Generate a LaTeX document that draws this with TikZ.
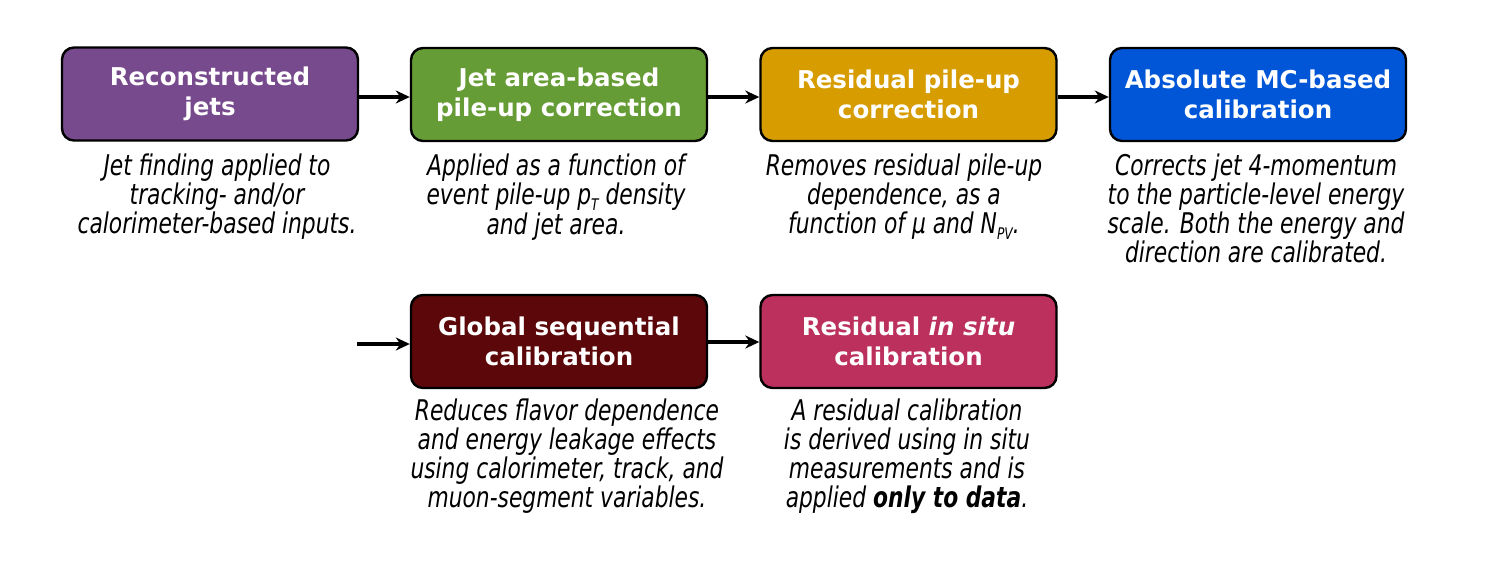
\documentclass[tikz,border=0pt]{standalone}
\usepackage{fontspec}
\setmainfont{DejaVu Sans}
\newfontfamily\descfont{DejaVu Sans Condensed}[FakeStretch=0.85]
\usetikzlibrary{arrows.meta}
\definecolor{cpurple}{RGB}{118,74,140}
\definecolor{cgreen}{RGB}{102,156,54}
\definecolor{cgold}{RGB}{214,156,0}
\definecolor{cblue}{RGB}{0,86,214}
\definecolor{cdarkred}{RGB}{92,8,10}
\definecolor{cpink}{RGB}{188,48,94}
\newcommand\dsub[1]{\smash{\raisebox{-0.2em}{\fontsize{16}{16}\selectfont #1}}}
\tikzset{
  stagebox/.style={draw=black, line width=2.4pt, rounded corners=12pt,
    minimum width=296pt, minimum height=93pt, inner sep=0pt,
    text=white, align=center, font=\fontsize{24.5}{30.5}\selectfont\bfseries},
  desctext/.style={anchor=north, inner sep=0pt, align=center,
    font=\descfont\itshape\fontsize{28.5}{29}\selectfont},
  flow/.style={line width=3.2pt, -{Stealth[length=14pt,width=13pt]}}
}
\begin{document}
\begin{tikzpicture}[x=1pt,y=-1pt]
\useasboundingbox (0,0) rectangle (1512,584);
\node[stagebox, fill=cpurple] (b1) at (210,94) {Reconstructed\\jets};
\node[stagebox, fill=cgreen] (b2) at (559,94.5) {Jet area-based\\pile-up correction};
\node[stagebox, fill=cgold] (b3) at (908.5,94.5) {Residual pile-up\\correction};
\node[stagebox, fill=cblue] (b4) at (1258,94.5) {Absolute MC-based\\calibration};
\node[stagebox, fill=cdarkred] (b5) at (559,341.5) {Global sequential\\calibration};
\node[stagebox, fill=cpink] (b6) at (908.5,341.5) {Residual \textit{in situ}\\calibration};
\coordinate (in5) at (357,344);
\draw[flow] (b1.east |- 0,97) -- (b2.west |- 0,97);
\draw[flow] (b2.east |- 0,97) -- (b3.west |- 0,97);
\draw[flow] (b3.east |- 0,97) -- (b4.west |- 0,97);
\draw[flow] (in5) -- (b5.west |- in5);
\draw[flow] (b5.east |- 0,342) -- (b6.west |- 0,342);
\node[desctext] (d1) at (217,154) {Jet finding applied to\\tracking- and/or\\calorimeter-based inputs.};
\node[desctext] (d2) at (556,154) {Applied as a function of\\event pile-up \textit{p}\dsub{T} density\\[1pt]and jet area.};
\node[desctext] (d3) at (904,154) {Removes residual pile-up\\dependence, as a\\function of μ and N\dsub{PV}.};
\node[desctext] (d4) at (1256,154) {Corrects jet 4-momentum\\to the particle-level energy\\scale. Both the energy and\\direction are calibrated.};
\node[desctext] (d5) at (567,399) {Reduces flavor dependence\\and energy leakage effects\\using calorimeter, track, and\\muon-segment variables.};
\node[desctext] (d6) at (907,399) {A residual calibration\\is derived using in situ\\measurements and is\\applied \textbf{only to data}.};
\end{tikzpicture}
\end{document}
